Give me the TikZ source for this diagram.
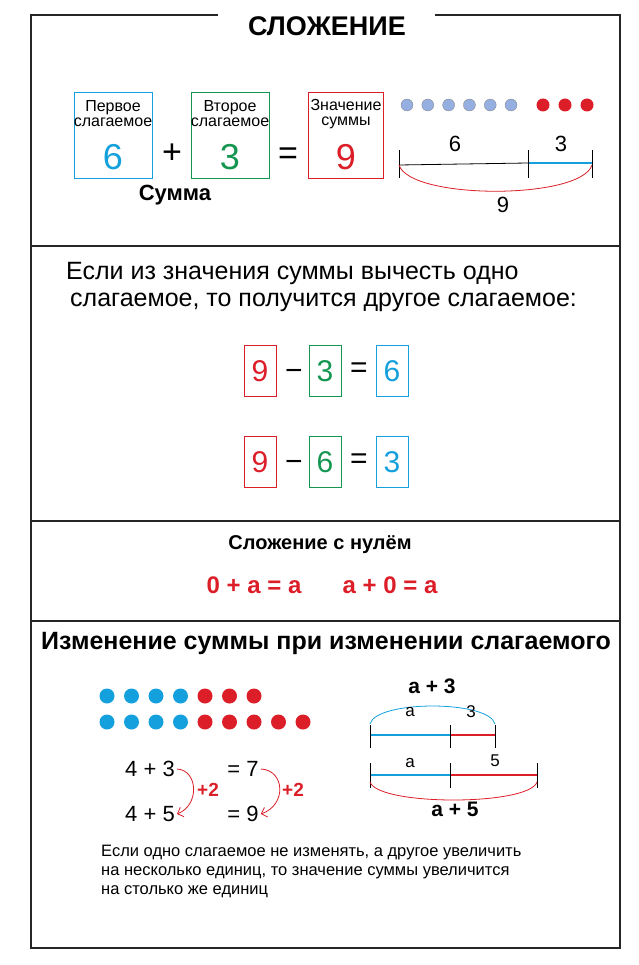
\documentclass[tikz,border=0pt]{standalone}
\usepackage{fontspec}
\setmainfont{Liberation Sans}
\usetikzlibrary{arrows.meta}
\definecolor{cb}{RGB}{20,160,220}
\definecolor{cg}{RGB}{20,150,80}
\definecolor{cr}{RGB}{220,30,40}
\definecolor{lb}{RGB}{150,175,225}
\begin{document}
\begin{tikzpicture}[x=1pt,y=-1pt,
 frame/.style={line width=2pt,draw=black!85},
 bigbox/.style={draw,line width=0.8pt,minimum width=78pt,minimum height=86pt,inner sep=0},
 smbox/.style={draw,line width=0.8pt,minimum width=32pt,minimum height=51pt,inner sep=0,font=\fontsize{30}{30}\selectfont},
 lbl/.style={font=\fontsize{16}{15}\selectfont,align=center,inner sep=0},
 num/.style={font=\fontsize{36}{36}\selectfont,inner sep=0},
 mid/.style={font=\fontsize{34}{34}\selectfont,inner sep=0},
 eq/.style={font=\fontsize{22}{22}\selectfont,inner sep=0},
 op/.style={font=\fontsize{30}{30}\selectfont,inner sep=0},
 seglbl/.style={font=\fontsize{17}{17}\selectfont,inner sep=0},
 bdot/.style={circle,fill=#1,inner sep=0,minimum size=13pt},
 tick/.style={line width=0.8pt},
 seg/.style={line width=1.6pt}]
\useasboundingbox (0,0) rectangle (638,965);
% frame
\draw[frame] (218,15) -- (31,15) -- (31,948) -- (620,948) -- (620,15) -- (435,15);
\foreach \yy in {246,521,621} \draw[frame] (31,\yy) -- (620,\yy);
\node[font=\bfseries\fontsize{27}{27}\selectfont] (title) at (327,26) {СЛОЖЕНИЕ};
% section 1
\node[bigbox,draw=cb] (b1) at (113,135) {};
\node[bigbox,draw=cg] (b2) at (230,135) {};
\node[bigbox,draw=cr,minimum width=75pt] (b3) at (346,135) {};
\node[lbl] (l1) at (113,114) {Первое\\слагаемое};
\node[lbl] (l2) at (230,114) {Второе\\слагаемое};
\node[lbl] (l3) at (346,114) {Значение\\суммы};
\node[num,text=cb] (n1) at (113,157) {6};
\node[num,text=cg] (n2) at (230,157) {3};
\node[num,text=cr] (n3) at (346,157) {9};
\node[mid] (plus) at (172,154) {+};
\node[mid] (eq1) at (288,156) {=};
\node[font=\bfseries\fontsize{22}{22}\selectfont] (summa) at (175,195) {Сумма};
\foreach \i in {0,...,5} \node[bdot=lb,draw=black!50,line width=0.3pt,minimum size=12pt] (d\i) at (407+\i*20.8,105) {};
\foreach \i in {0,1,2} \node[bdot=cr,minimum size=13pt] (r\i) at (543+\i*22,105) {};
\coordinate (s0) at (399,165); \coordinate (s1) at (528,163); \coordinate (s2) at (592,163);
\draw[tick] (s0) -- (s1);
\draw[seg,cb] (s1) -- (s2);
\draw[tick] (399,150) -- (399,178) (528,150) -- (528,178) (592,150) -- (592,178);
\draw[tick,cr] (s0) .. controls (410,200) and (581,200) .. (592,165);
\node[eq] (t6) at (455,144) {6};
\node[eq] (t3) at (561,144) {3};
\node[eq] (t9) at (503,205) {9};
% section 2
\node[anchor=west,font=\fontsize{25}{25}\selectfont,inner sep=0] (p1) at (66,273) {Если из значения суммы вычесть одно};
\node[anchor=west,font=\fontsize{25}{25}\selectfont,inner sep=0] (p2) at (70,302) {слагаемое, то получится другое слагаемое:};
\node[smbox,draw=cr,text=cr] (a1) at (260,371) {9};
\node[smbox,draw=cg,text=cg] (a2) at (325,371) {3};
\node[smbox,draw=cb,text=cb] (a3) at (392,371) {6};
\node[op] (m1) at (294,375) {−};
\node[op] (e1) at (359,370) {=};
\node[smbox,draw=cr,text=cr] (c1) at (260,462) {9};
\node[smbox,draw=cg,text=cg] (c2) at (325,462) {6};
\node[smbox,draw=cb,text=cb] (c3) at (392,462) {3};
\node[op] (m2) at (294,466) {−};
\node[op] (e2) at (359,461) {=};
% section 3
\node[font=\bfseries\fontsize{20}{20}\selectfont] (zt) at (320,545) {Сложение с нулём};
\node[font=\bfseries\fontsize{24}{24}\selectfont,text=cr] (z1) at (254,585) {0 + а = а};
\node[font=\bfseries\fontsize{24}{24}\selectfont,text=cr] (z2) at (390,585) {а + 0 = а};
% section 4
\node[anchor=west,font=\bfseries\fontsize{25}{25}\selectfont,inner sep=0] (t4) at (41,643) {Изменение суммы при изменении слагаемого};
\foreach \i in {0,...,3} {\node[bdot=cb,minimum width=14pt,minimum height=15pt] (u\i) at (107+\i*24.5,696) {};
  \node[bdot=cb,minimum width=14pt,minimum height=15pt] (v\i) at (107+\i*24.5,722) {};}
\foreach \i in {4,...,6} \node[bdot=cr,minimum width=14pt,minimum height=15pt] (u\i) at (107+\i*24.5,696) {};
\foreach \i in {4,...,8} \node[bdot=cr,minimum width=14pt,minimum height=15pt] (v\i) at (107+\i*24.5,722) {};
\node[eq] (q1) at (150,769) {4 + 3};
\node[eq] (q2) at (243,769) {= 7};
\node[eq] (q3) at (150,814) {4 + 5};
\node[eq] (q4) at (243,814) {= 9};
\draw[cr,line width=0.8pt,-{Straight Barb[length=5pt]}] ([xshift=2pt]q1.east) .. controls (198,770) and (200,805) .. ([xshift=2pt]q3.east);
\draw[cr,line width=0.8pt,-{Straight Barb[length=5pt]}] ([xshift=2pt]q2.east) .. controls (285,770) and (287,805) .. ([xshift=2pt]q4.east);
\node[font=\bfseries\fontsize{19}{19}\selectfont,text=cr] (k1) at (208,790) {+2};
\node[font=\bfseries\fontsize{19}{19}\selectfont,text=cr] (k2) at (293,790) {+2};
% segments
\node[font=\bfseries\fontsize{21}{21}\selectfont] (sa3) at (432,686) {а + 3};
\coordinate (g0) at (370,735); \coordinate (g1) at (450,735); \coordinate (g2) at (495,735);
\draw[cb,seg] (g0) -- (g1);
\draw[cr,seg] (g1) -- (g2);
\draw[tick] (370,725) -- (370,748) (450,725) -- (450,748) (495,725) -- (495,748);
\draw[tick,cb] (370,724) .. controls (376,700) and (489,700) .. (495,724);
\node[seglbl] (ga) at (410,712) {а};
\node[seglbl] (g3) at (471,712) {3};
\coordinate (h0) at (370,775); \coordinate (h1) at (450,775); \coordinate (h2) at (537,775);
\draw[cb,seg] (h0) -- (h1);
\draw[cr,seg] (h1) -- (h2);
\draw[tick] (370,763) -- (370,788) (450,763) -- (450,788) (537,763) -- (537,788);
\draw[tick,cr] (370,782) .. controls (378,806) and (529,806) .. (537,782);
\node[seglbl] (ha) at (410,763) {а};
\node[seglbl] (h5) at (495,761) {5};
\node[font=\bfseries\fontsize{21}{21}\selectfont] (sa5) at (455,809) {а + 5};
\node[anchor=north west,align=left,font=\fontsize{16.5}{19}\selectfont,inner sep=0] (para) at (101,845) {Если одно слагаемое не изменять, а другое увеличить\\на несколько единиц, то значение суммы увеличится\\на столько же единиц};
\end{tikzpicture}
\end{document}
